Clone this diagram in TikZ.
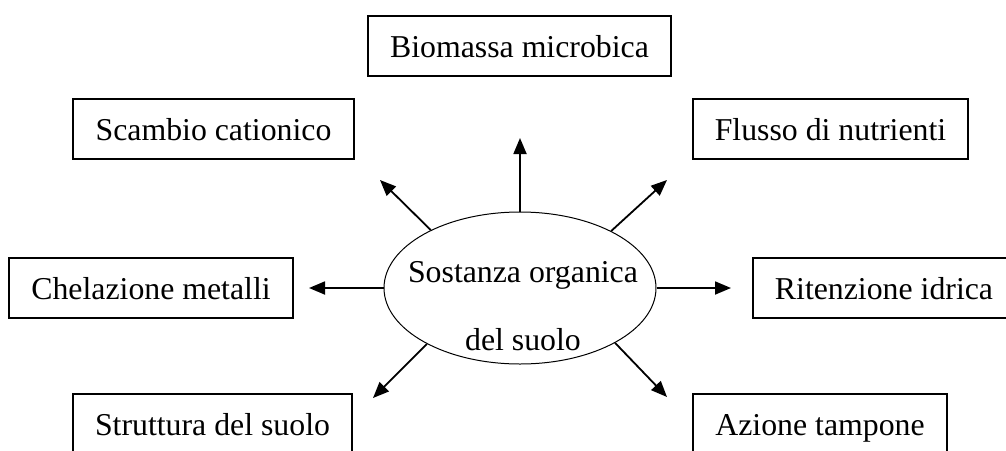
\documentclass[tikz,border=0pt]{standalone}
\usepackage{fontspec}
\setmainfont{Liberation Serif}
\usetikzlibrary{shapes.geometric,arrows.meta}
\begin{document}
\begin{tikzpicture}[x=1pt,y=-1pt,
  box/.style={draw, line width=1.4pt, minimum height=60pt, inner sep=0pt, text height=22pt, text depth=0pt, font=\fontsize{31.8}{36}\selectfont},
  txt/.style={inner sep=0pt, anchor=base, font=\fontsize{31.8}{36}\selectfont},
  arr/.style={line width=1.8pt, -{Triangle[length=16pt,width=13pt]}}]
\useasboundingbox[fill=white] (0,0) rectangle (1006,450);
\node[box, minimum width=303pt] (bio) at (519.5,46) {Biomassa microbica};
\node[box, minimum width=281pt] (sca) at (213.5,129) {Scambio cationico};
\node[box, minimum width=275pt] (flu) at (830.5,129) {Flusso di nutrienti};
\node[box, minimum width=284pt] (che) at (151,288) {Chelazione metalli};
\node[box, minimum width=262pt] (rit) at (884,288) {Ritenzione idrica};
\node[box, minimum width=279pt] (str) at (212.5,424) {Struttura del suolo};
\node[box, minimum width=254pt] (azi) at (820,424) {Azione tampone};
\node[draw, ellipse, line width=1pt, minimum width=272pt, minimum height=152pt, inner sep=0pt] (e) at (520,288) {};
\node[txt] (t1) at (523,282) {Sostanza organica};
\node[txt] (t2) at (523,350) {del suolo};
\coordinate (cU) at (520,138);
\coordinate (cUL) at (380,180);
\coordinate (cUR) at (667,180);
\coordinate (cL) at (309,288);
\coordinate (cR) at (731,288);
\coordinate (cDL) at (373,398);
\coordinate (cDR) at (667,397);
\draw[arr] (e.north) -- (cU);
\draw[arr] (e.147) -- (cUL);
\draw[arr] (e.32) -- (cUR);
\draw[arr] (e.west) -- (cL);
\draw[arr] (e.east) -- (cR);
\draw[arr] (e.211) -- (cDL);
\draw[arr] (e.330) -- (cDR);
\end{tikzpicture}
\end{document}
